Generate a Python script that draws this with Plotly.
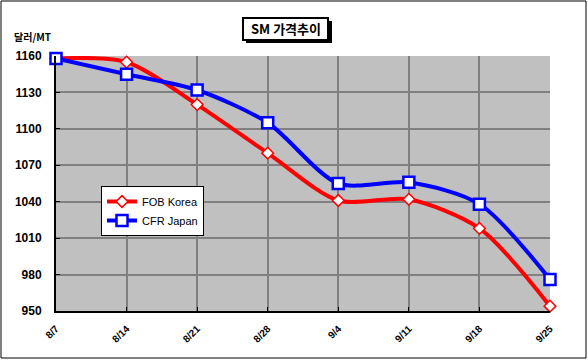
import plotly.graph_objects as go

dates = ["8/7", "8/14", "8/21", "8/28", "9/4", "9/11", "9/18", "9/25"]
fob_korea = [1158, 1155, 1120, 1080, 1041, 1042, 1018, 954]
cfr_japan = [1158, 1145, 1132, 1105, 1055, 1056, 1038, 976]
y_ticks = [950, 980, 1010, 1040, 1070, 1100, 1130, 1160]

W, H = 588, 360
L, R, T, B = 56, 38, 56, 49
PW, PH = W - L - R, H - T - B


def px(x):
    return (x - L) / PW


def py(y):
    return (H - B - y) / PH


xs = list(range(len(dates)))

fig = go.Figure()
fig.add_trace(go.Scatter(
    x=xs, y=fob_korea, name="FOB Korea", mode="lines+markers",
    line=dict(color="#FF0000", width=4, shape="spline", smoothing=0.8),
    marker=dict(symbol="diamond", size=9, color="white", line=dict(color="#FF0000", width=1.5)),
    cliponaxis=False,
))
fig.add_trace(go.Scatter(
    x=xs, y=cfr_japan, name="CFR Japan", mode="lines+markers",
    line=dict(color="#0000FF", width=4, shape="spline", smoothing=0.8),
    marker=dict(symbol="square", size=11, color="white", line=dict(color="#0000FF", width=2.5)),
    cliponaxis=False,
))

font = "Liberation Sans, Arial, sans-serif"

fig.update_layout(
    width=W, height=H,
    margin=dict(l=L, r=R, t=T, b=B, autoexpand=False),
    paper_bgcolor="white",
    plot_bgcolor="#C0C0C0",
    showlegend=True,
    legend=dict(
        x=px(101), y=py(186), xanchor="left", yanchor="top",
        bgcolor="white", bordercolor="black", borderwidth=1,
        font=dict(family=font, size=11, color="black"),
        tracegroupgap=0, itemwidth=30,
    ),
    xaxis=dict(
        tickmode="array", tickvals=xs, ticktext=dates, range=[0, 7],
        showgrid=True, gridcolor="#808080", gridwidth=2,
        showline=True, linecolor="black", linewidth=2,
        ticks="inside", ticklen=4, tickcolor="black",
        tickangle=-45, ticklabelstandoff=6,
        tickfont=dict(family=font, size=10, color="black", weight="bold"),
        zeroline=False, automargin=False,
    ),
    yaxis=dict(
        tickmode="array", tickvals=y_ticks, range=[950, 1160],
        showgrid=True, gridcolor="#808080", gridwidth=2,
        showline=True, linecolor="black", linewidth=2,
        ticks="inside", ticklen=4, tickcolor="black",
        ticklabelstandoff=10,
        tickfont=dict(family=font, size=12, color="black", weight="bold"),
        zeroline=False, automargin=False,
    ),
    shapes=[
        dict(type="rect", xref="paper", yref="paper",
             x0=px(1), x1=px(586), y0=py(358), y1=py(1),
             line=dict(color="black", width=1), fillcolor="rgba(0,0,0,0)", layer="below"),
        dict(type="rect", xref="paper", yref="paper",
             x0=px(246), x1=px(332), y0=py(43), y1=py(21),
             line=dict(color="black", width=0), fillcolor="black"),
        dict(type="rect", xref="paper", yref="paper",
             x0=px(243), x1=px(328), y0=py(40), y1=py(18),
             line=dict(color="black", width=2), fillcolor="white"),
    ],
    annotations=[
        dict(text="<b>SM 가격추이</b>", xref="paper", yref="paper",
             x=px(285.5), y=py(29), xanchor="center", yanchor="middle",
             showarrow=False, font=dict(family="Noto Sans CJK KR, sans-serif", size=13, color="black")),
        dict(text="<b>달러/MT</b>", xref="paper", yref="paper",
             x=px(12), y=py(36), xanchor="left", yanchor="middle",
             showarrow=False, font=dict(family="Noto Sans CJK KR, sans-serif", size=10, color="black")),
    ],
)

fig.write_html("out.html", config={"displayModeBar": False},
               post_script="document.body.style.margin='0';")
